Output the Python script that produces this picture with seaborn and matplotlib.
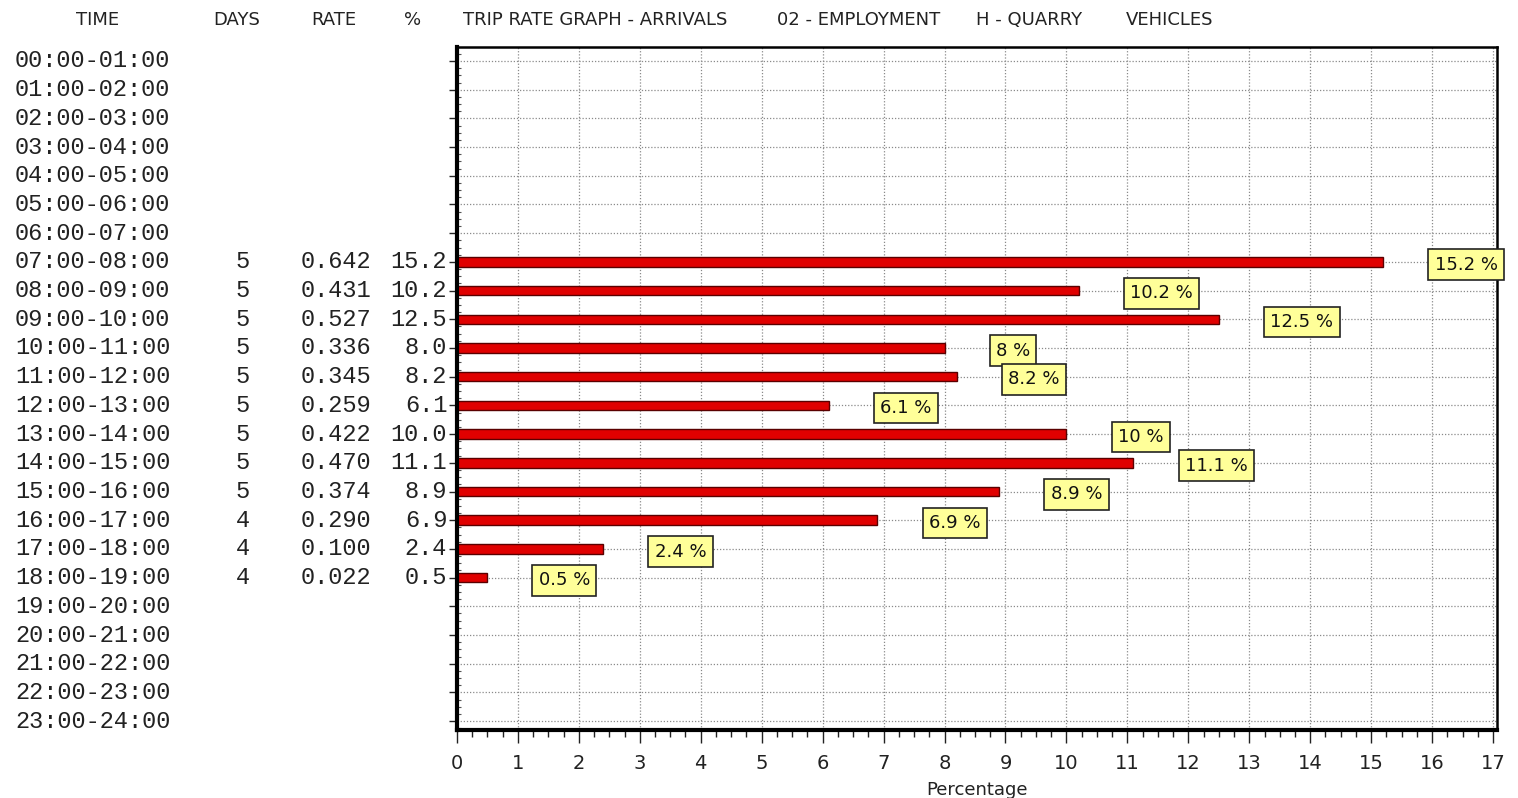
import numpy as np
import pandas as pd
import seaborn as sns
import matplotlib.pyplot as plt
from matplotlib.ticker import MultipleLocator
from matplotlib.transforms import blended_transform_factory

times = ['%02d:00-%02d:00' % (h, h + 1) for h in range(24)]
days = ['', '', '', '', '', '', '', '5', '5', '5', '5', '5', '5', '5', '5', '5', '4', '4', '4', '', '', '', '', '']
rates = ['', '', '', '', '', '', '', '0.642', '0.431', '0.527', '0.336', '0.345', '0.259', '0.422', '0.470', '0.374',
         '0.290', '0.100', '0.022', '', '', '', '', '']
pct_col = ['', '', '', '', '', '', '', '15.2', '10.2', '12.5', '8.0', '8.2', '6.1', '10.0', '11.1', '8.9',
           '6.9', '2.4', '0.5', '', '', '', '', '']
bar_times = times[7:19]
bar_pct = [15.2, 10.2, 12.5, 8.0, 8.2, 6.1, 10.0, 11.1, 8.9, 6.9, 2.4, 0.5]
title_parts = ['TRIP RATE GRAPH - ARRIVALS', '02 - EMPLOYMENT', 'H - QUARRY', 'VEHICLES']

df = pd.DataFrame({'time': bar_times, 'pct': bar_pct})

sns.set_style('white')
plt.rcParams['font.family'] = ['DejaVu Sans']
txt = '#222222'
mono = dict(fontfamily='Liberation Mono', fontsize=17, color=txt)

fig = plt.figure(figsize=(15.18, 7.98), dpi=100)
ax = fig.add_axes([0.301, 0.0852, 0.685, 0.856])

sns.barplot(ax=ax, data=df, x='pct', y='time', order=times, orient='h', width=0.33,
            color='#e00000', edgecolor='#5a0000', linewidth=1, saturation=1)

ax.set_xlim(0, 17.06)
ax.set_ylim(23.31, -0.49)
ax.set_xticks(range(18))
ax.xaxis.set_minor_locator(MultipleLocator(0.25))
ax.set_yticks(range(24))
ax.set_yticklabels(pct_col, va='center', **mono)
ax.yaxis.set_minor_locator(MultipleLocator(0.25))
ax.tick_params(left=True, bottom=True, which='both')
ax.tick_params(axis='x', which='major', length=9, width=1, direction='out', labelsize=14, pad=8, colors=txt)
ax.tick_params(axis='x', which='minor', length=5, width=1, direction='out', colors=txt)
ax.tick_params(axis='y', which='major', length=6, width=1, direction='out', pad=1)
ax.tick_params(axis='y', which='minor', length=3, width=0.8, direction='in', colors='#555555')
ax.grid(True, which='major', color='#8a8a8a', linestyle=(0, (1, 1.5)), linewidth=0.9)
ax.set_axisbelow(True)
ax.set_xlabel('Percentage', fontsize=13, labelpad=6, color=txt)
ax.set_ylabel('')

for side in ['left', 'bottom']:
    ax.spines[side].set_linewidth(3)
for side in ['top', 'right']:
    ax.spines[side].set_linewidth(1.8)
for s in ax.spines.values():
    s.set_color('black')

# other table columns
tr = blended_transform_factory(fig.transFigure, ax.transData)
for i, t in enumerate(times):
    ax.text(15 / 1518, i, t, transform=tr, ha='left', va='center', **mono)
    ax.text(243 / 1518, i, days[i], transform=tr, ha='center', va='center', **mono)
    ax.text(371 / 1518, i, rates[i], transform=tr, ha='right', va='center', **mono)

# value labels
for t, v in zip(bar_times, bar_pct):
    ax.annotate('%g %%' % v, xy=(v, times.index(t)), xytext=(37, -2), textcoords='offset points',
                ha='left', va='center', fontsize=13, color='#111111',
                bbox=dict(boxstyle='square,pad=0.35', fc='#ffff99', ec='#222222', lw=1.2))

# headers
hy = 1 - 20 / 798
fig.text(98 / 1518, hy, 'TIME', ha='center', va='center', fontsize=13, color=txt)
fig.text(237 / 1518, hy, 'DAYS', ha='center', va='center', fontsize=13, color=txt)
fig.text(334 / 1518, hy, 'RATE', ha='center', va='center', fontsize=13, color=txt)
fig.text(413 / 1518, hy, '%', ha='center', va='center', fontsize=13, color=txt)
for xp, part in zip([463, 777, 976, 1126], title_parts):
    fig.text(xp / 1518, hy, part, ha='left', va='center', fontsize=13, color=txt)

plt.savefig('out.png', dpi=100)
